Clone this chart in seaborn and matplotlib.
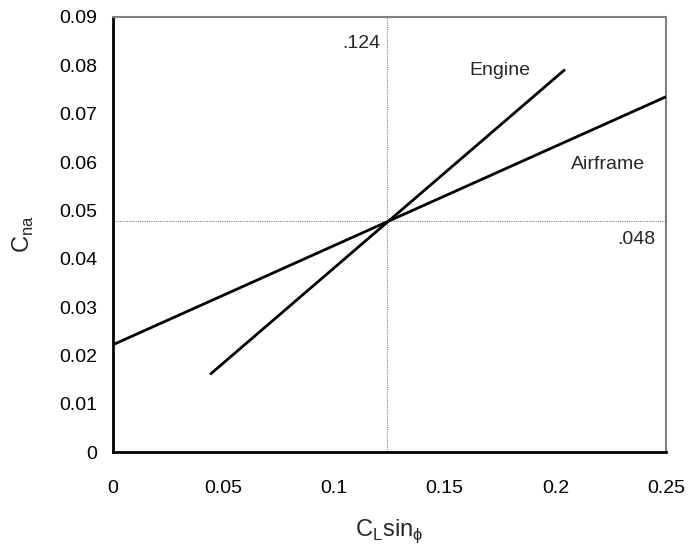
import pandas as pd
import matplotlib
matplotlib.use("Agg")
import matplotlib.pyplot as plt
import seaborn as sns

# datos
series = ["Airframe", "Airframe", "Engine", "Engine"]
cl_sin_phi = [0.0, 0.25, 0.0443, 0.204]
cn_a = [0.0222, 0.0735, 0.0162, 0.079]
cross_x = 0.124
cross_y = 0.0478
x_ticks = [0, 0.05, 0.1, 0.15, 0.2, 0.25]
y_ticks = [0, 0.01, 0.02, 0.03, 0.04, 0.05, 0.06, 0.07, 0.08, 0.09]
x_tick_labels = ["0", "0.05", "0.1", "0.15", "0.2", "0.25"]
y_tick_labels = ["0", "0.01", "0.02", "0.03", "0.04", "0.05", "0.06", "0.07", "0.08", "0.09"]

df = pd.DataFrame({"series": series, "x": cl_sin_phi, "y": cn_a})

sns.set_style("white")
plt.rcParams["font.family"] = ["Liberation Sans", "DejaVu Sans"]
plt.rcParams["mathtext.fontset"] = "custom"
plt.rcParams["mathtext.rm"] = "Liberation Sans"

fig, ax = plt.subplots(figsize=(6.88, 5.48), dpi=100)
fig.subplots_adjust(left=0.164, right=0.968, bottom=0.175, top=0.969)

# lineas de referencia
ax.axvline(cross_x, color="#808080", lw=0.8, ls=(0, (1, 1)), zorder=1)
ax.axhline(cross_y, color="#808080", lw=0.8, ls=(0, (1, 1)), zorder=1)

sns.lineplot(data=df, x="x", y="y", units="series", estimator=None,
             color="black", lw=2, ax=ax, legend=False, zorder=3)

ax.set_xlim(0, 0.25)
ax.set_ylim(0, 0.09)
ax.set_xticks(x_ticks)
ax.set_xticklabels(x_tick_labels)
ax.set_yticks(y_ticks)
ax.set_yticklabels(y_tick_labels)
ax.tick_params(axis="both", direction="in", length=6, width=2, color="black",
               labelsize=14, labelcolor="black")
ax.tick_params(axis="x", pad=20)
ax.tick_params(axis="y", pad=11)

for side in ["left", "bottom"]:
    ax.spines[side].set_color("black")
    ax.spines[side].set_linewidth(2)
for side in ["top", "right"]:
    ax.spines[side].set_color("#808080")
    ax.spines[side].set_linewidth(1.5)

ax.set_xlabel(r"C$_\mathregular{L}$sin$_\mathregular{ϕ}$", fontsize=17, labelpad=15)
ax.set_ylabel(r"C$_\mathregular{na}$", fontsize=17, labelpad=17)

ax.text(0.1207, 0.0846, ".124", fontsize=14, ha="right", va="center")
ax.text(0.175, 0.0789, "Engine", fontsize=14, ha="center", va="center")
ax.text(0.2405, 0.0594, "Airframe", fontsize=14, ha="right", va="center")
ax.text(0.245, 0.0439, ".048", fontsize=14, ha="right", va="center")

fig.savefig("out.png", dpi=100)
